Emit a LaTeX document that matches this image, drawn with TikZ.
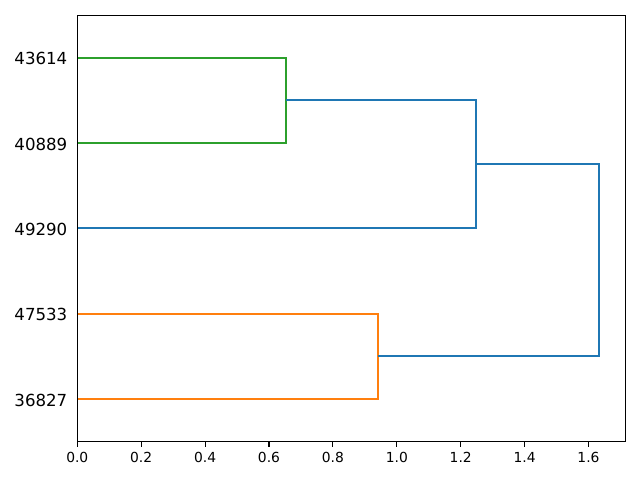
\documentclass[tikz,border=0pt]{standalone}
\usepackage{fontspec}
\setmainfont{DejaVu Sans}
\usetikzlibrary{positioning}
\definecolor{LinkBlue}{HTML}{1F77B4}
\definecolor{LinkOrange}{HTML}{FF7F0E}
\definecolor{LinkGreen}{HTML}{2CA02C}
\tikzset{
  link/.style={line width=1.5pt,line join=miter},
  spine/.style={line width=0.8pt,draw=black},
  tickmark/.style={line width=0.8pt,draw=black},
  leaflabel/.style={anchor=east,inner sep=0pt,font=\fontsize{12}{14}\selectfont},
  ticklabel/.style={anchor=north,inner sep=0pt,font=\fontsize{10}{12}\selectfont}
}

\begin{document}
\begin{tikzpicture}[x=0.01in,y=-0.01in]
\useasboundingbox (0,0) rectangle (640,480);

% leaves, merge points (pixel units)
\coordinate (l43614) at (77.3,57.7);
\coordinate (l40889) at (77.3,143.0);
\coordinate (l49290) at (77.3,228.3);
\coordinate (l47533) at (77.3,313.7);
\coordinate (l36827) at (77.3,399.0);
\coordinate (mgreen) at (286.0,100.35);
\coordinate (morange) at (377.7,356.35);
\coordinate (mblue) at (476.0,164.3);
\coordinate (mtop) at (599.0,260.3);

% links
\draw[link,LinkGreen] (l43614) -| (mgreen) |- (l40889);
\draw[link,LinkOrange] (l47533) -| (morange) |- (l36827);
\draw[link,LinkBlue] (mgreen) -| (mblue) |- (l49290);
\draw[link,LinkBlue] (mblue) -| (mtop) |- (morange);

% frame
\draw[spine] (77.3,15.3) rectangle (625.7,441.7);

% leaf labels
\foreach \lf in {43614,40889,49290,47533,36827}
  \node[leaflabel] (lab\lf) at ([xshift=-9.7*0.01in,yshift=-1.1*0.01in]l\lf) {\lf};

% x axis
\foreach \v [count=\i from 0] in {0.0,0.2,0.4,0.6,0.8,1.0,1.2,1.4,1.6} {
  \draw[tickmark] (77.3+63.9*\i,441.7) -- (77.3+63.9*\i,446.6);
  \node[ticklabel] (xt\i) at (77.3+63.9*\i,452.3) {\v};
}
\end{tikzpicture}
\end{document}
